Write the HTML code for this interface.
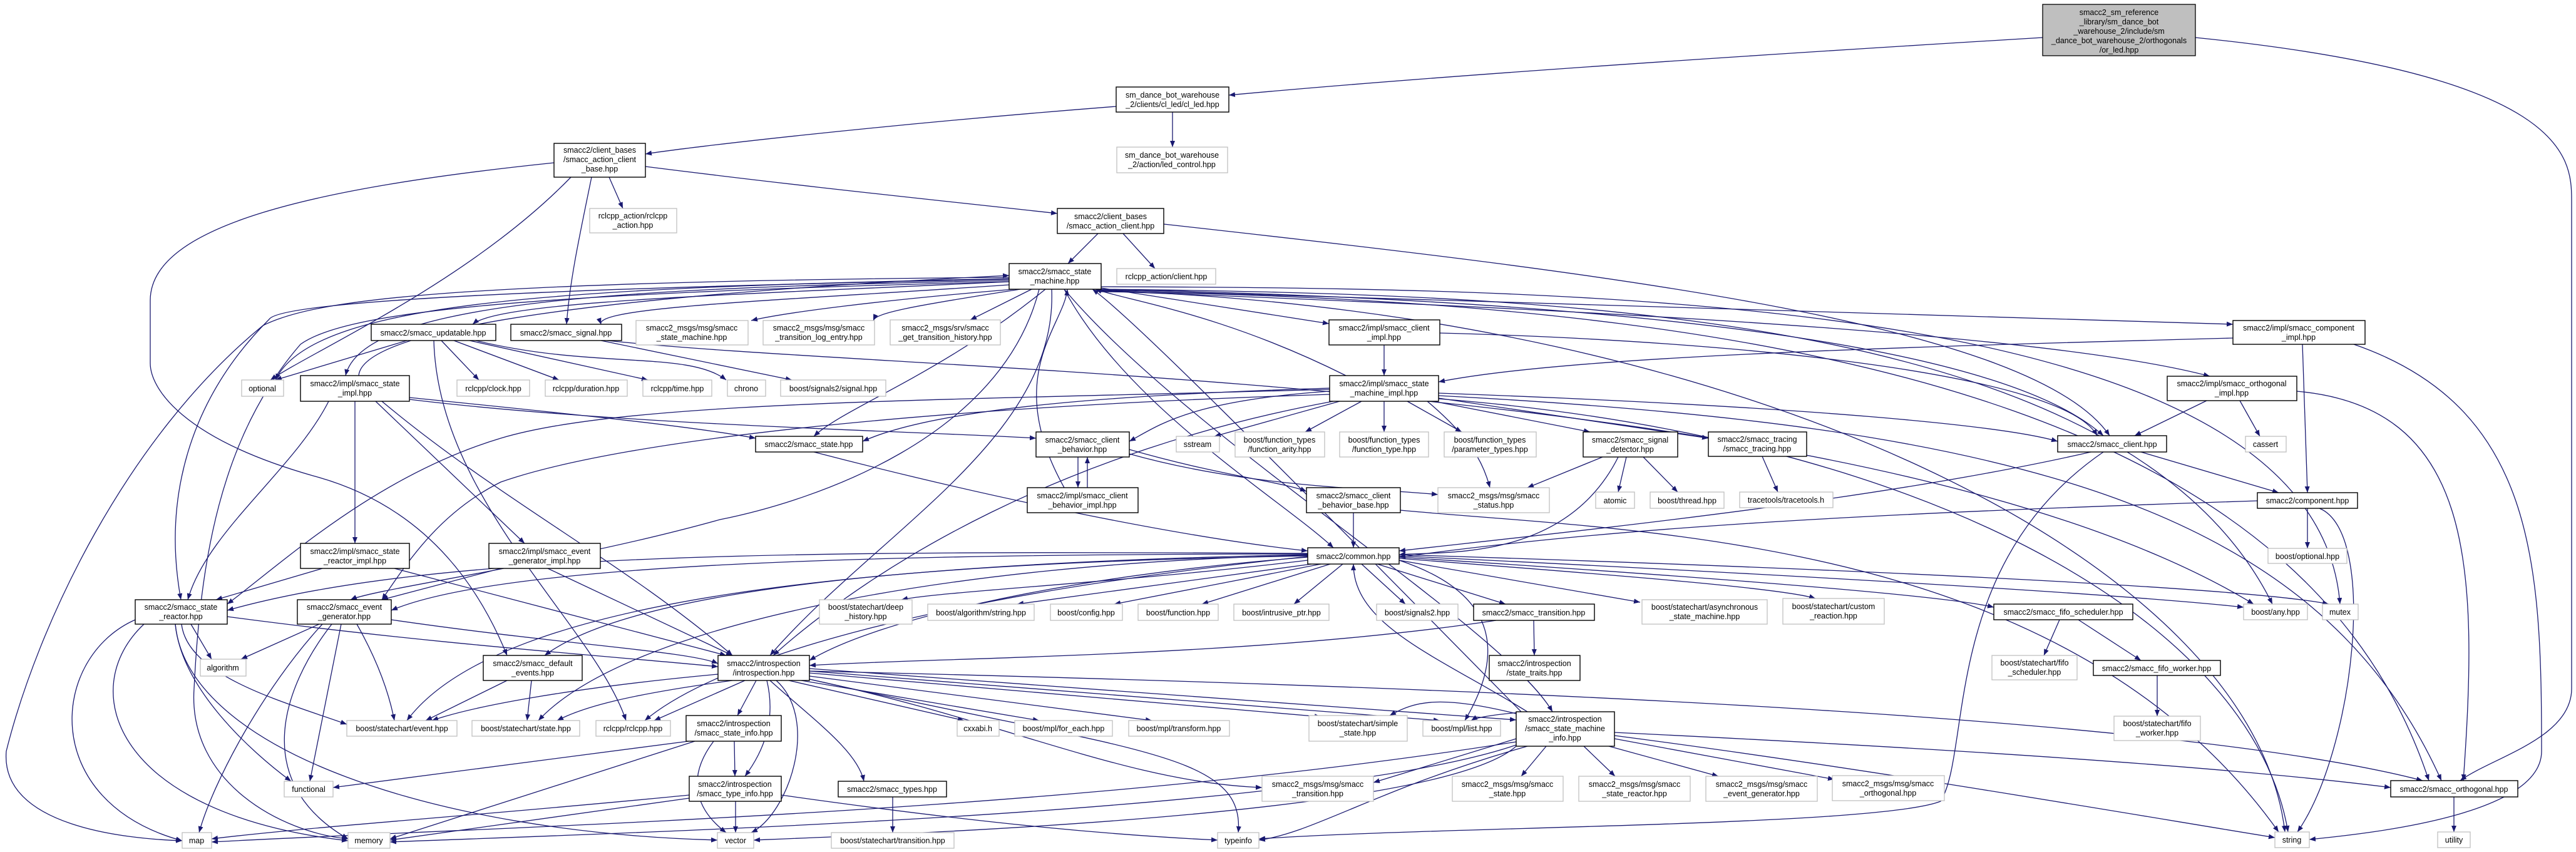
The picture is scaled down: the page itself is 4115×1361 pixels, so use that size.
<!DOCTYPE html>
<html><head><meta charset="utf-8"><style>
html,body{margin:0;padding:0;background:#fff;}
svg{display:block;}
text{font-family:"Liberation Sans",sans-serif;font-size:12.5px;fill:#000;text-anchor:middle;}
.e{fill:none;stroke:#191970;stroke-width:1.3;marker-end:url(#a);}
.b{fill:#fff;stroke:#000;stroke-width:1.4;}
.g{fill:#fff;stroke:#bfbfbf;stroke-width:1.3;}
</style></head><body>
<svg width="4115" height="1361" viewBox="0 0 4115 1361" xmlns="http://www.w3.org/2000/svg">
<defs><marker id="a" markerUnits="userSpaceOnUse" markerWidth="12" markerHeight="10" refX="10" refY="4" orient="auto"><path d="M0,0 L10,4 L0,8 z" fill="#191970"/></marker></defs>
<g>
<path class="e" d="M3263 60 C2600 100 2200 130 1963 152"/>
<path class="e" d="M3507 60 C4100 120 4108 250 4108 320 L4108 1100 C4108 1180 3980 1210 3930 1247"/>
<path class="e" d="M1783 170 C1400 200 1100 235 1031 246"/>
<path class="e" d="M1873 179 L1873 235"/>
<path class="e" d="M1031 266 C1300 300 1500 320 1689 341"/>
<path class="e" d="M973 283 L995 333"/>
<path class="e" d="M945 283 C925 380 910 450 905 518"/>
<path class="e" d="M912 283 C750 450 500 560 432 607"/>
<path class="e" d="M885 260 C500 300 240 360 240 480 L240 580 C240 620 290 700 500 760 C650 800 750 900 810 1047"/>
<path class="e" d="M1754 373 L1706 421"/>
<path class="e" d="M1794 373 L1845 429"/>
<path class="e" d="M1859 358 C2600 440 3250 520 3370 696"/>
<path class="e" d="M1612 450 C1200 470 800 480 755 518"/>
<path class="e" d="M1612 455 C1250 480 950 490 960 518"/>
<path class="e" d="M1620 462 C1400 480 1250 500 1200 512"/>
<path class="e" d="M1630 462 C1450 490 1400 500 1395 512"/>
<path class="e" d="M1648 462 L1550 511"/>
<path class="e" d="M1759 460 L2123 517"/>
<path class="e" d="M1612 445 C900 460 500 480 440 607"/>
<path class="e" d="M1612 448 C1000 460 580 480 552 600"/>
<path class="e" d="M1612 446 C900 460 450 480 430 510 C300 640 260 800 289 958"/>
<path class="e" d="M1660 462 C1600 700 1300 800 1150 830 C900 900 600 940 560 958"/>
<path class="e" d="M1680 462 C1690 700 1400 850 1230 1047"/>
<path class="e" d="M1670 462 C1500 600 1350 650 1300 697"/>
<path class="e" d="M1700 462 C1800 650 2050 800 2130 875"/>
<path class="e" d="M1759 462 C2500 470 3400 500 3630 965"/>
<path class="e" d="M1759 458 C2600 460 3700 480 3738 965"/>
<path class="e" d="M1759 462 C2600 480 3200 550 3360 696"/>
<path class="e" d="M1759 463 C2600 490 3300 510 3567 518"/>
<path class="e" d="M1759 465 C2700 500 3300 540 3530 601"/>
<path class="e" d="M1759 466 C3000 480 3700 700 3880 1247"/>
<path class="e" d="M1700 462 C1900 700 2400 1000 2480 1137"/>
<path class="e" d="M1759 464 C2800 500 3600 900 3650 1329"/>
<path class="e" d="M1612 443 C700 450 500 480 420 520 C200 700 60 1000 10 1200 C0 1320 200 1340 291 1343"/>
<path class="e" d="M1612 450 C800 470 550 500 480 550 C350 700 320 900 310 1100 C300 1250 450 1330 556 1340"/>
<path class="e" d="M573 600 C580 520 1000 470 1612 440"/>
<path class="e" d="M2150 600 C1950 500 1800 480 1750 462"/>
<path class="e" d="M1700 779 C1600 600 1700 520 1705 462"/>
<path class="e" d="M2430 1137 C2000 700 1800 500 1745 462"/>
<path class="e" d="M650 544 L440 607"/>
<path class="e" d="M705 544 L765 607"/>
<path class="e" d="M725 544 L893 607"/>
<path class="e" d="M750 544 L1035 607"/>
<path class="e" d="M760 544 C950 590 1100 560 1160 607"/>
<path class="e" d="M693 544 C700 800 950 1000 1000 1151"/>
<path class="e" d="M960 544 L1265 607"/>
<path class="e" d="M970 544 C1500 600 3000 600 3600 965"/>
<path class="e" d="M2211 551 L2211 600"/>
<path class="e" d="M2300 532 C2800 545 3300 600 3350 696"/>
<path class="e" d="M525 641 C470 750 330 850 300 958"/>
<path class="e" d="M567 641 L567 868"/>
<path class="e" d="M600 641 L838 868"/>
<path class="e" d="M610 641 C800 800 1000 900 1170 1047"/>
<path class="e" d="M654 635 C900 660 1100 680 1207 700"/>
<path class="e" d="M654 638 C1000 680 1500 690 1655 700"/>
<path class="e" d="M2140 641 L1940 697"/>
<path class="e" d="M2175 641 L2085 690"/>
<path class="e" d="M2211 641 L2211 690"/>
<path class="e" d="M2248 641 L2335 690"/>
<path class="e" d="M2290 641 L2540 690"/>
<path class="e" d="M2298 636 L2729 700"/>
<path class="e" d="M2280 641 C2350 700 2370 740 2380 779"/>
<path class="e" d="M2124 620 C1800 630 1500 650 1378 705"/>
<path class="e" d="M2124 625 C1900 640 1850 680 1804 705"/>
<path class="e" d="M2298 628 C2900 650 3200 680 3287 705"/>
<path class="e" d="M2124 622 C1500 640 1000 640 800 700 C600 760 450 900 363 965"/>
<path class="e" d="M2124 630 C1500 650 1000 700 800 770 C700 820 650 900 610 958"/>
<path class="e" d="M2130 641 C1700 720 1400 900 1235 1047"/>
<path class="e" d="M2298 632 C3200 680 3700 800 3900 1247"/>
<path class="e" d="M2298 637 C3100 700 3600 1000 3655 1329"/>
<path class="e" d="M1722 730 L1722 779"/>
<path class="e" d="M1737 779 L1737 730"/>
<path class="e" d="M1804 718 C1950 760 2050 770 2087 785"/>
<path class="e" d="M2162 819 L2162 875"/>
<path class="e" d="M1804 725 C2000 780 2200 780 2297 790"/>
<path class="e" d="M2237 815 C2600 850 3300 850 3640 1329"/>
<path class="e" d="M2560 730 L2440 779"/>
<path class="e" d="M2598 730 L2585 786"/>
<path class="e" d="M2625 730 L2680 786"/>
<path class="e" d="M2585 730 C2500 900 2300 880 2235 886"/>
<path class="e" d="M2815 729 L2840 786"/>
<path class="e" d="M3420 722 L3640 787"/>
<path class="e" d="M3340 722 C3000 800 2500 850 2235 880"/>
<path class="e" d="M3360 722 C3100 900 3150 1200 3100 1280 C3000 1320 2300 1320 2011 1340"/>
<path class="e" d="M3567 540 C3000 555 2500 570 2298 610"/>
<path class="e" d="M3678 550 L3686 787"/>
<path class="e" d="M3760 550 C4050 650 4060 900 4060 1200 C4060 1300 3800 1330 3689 1341"/>
<path class="e" d="M3525 640 L3410 696"/>
<path class="e" d="M3578 640 L3610 697"/>
<path class="e" d="M3669 625 C3950 650 3960 900 3935 1247"/>
<path class="e" d="M3686 812 L3686 876"/>
<path class="e" d="M3606 800 C3000 820 2600 840 2235 890"/>
<path class="e" d="M3705 812 C3800 850 3760 1200 3670 1329"/>
<path class="e" d="M2089 895 C1800 930 1500 945 1440 958"/>
<path class="e" d="M2095 901 L1625 965"/>
<path class="e" d="M2110 901 L1780 965"/>
<path class="e" d="M2125 901 L1920 965"/>
<path class="e" d="M2145 901 L2067 965"/>
<path class="e" d="M2175 901 L2245 965"/>
<path class="e" d="M2200 901 L2405 965"/>
<path class="e" d="M2235 895 L2620 962"/>
<path class="e" d="M2235 892 C2600 920 2850 940 2900 956"/>
<path class="e" d="M2235 890 C2700 920 3100 950 3185 970"/>
<path class="e" d="M2235 888 C2900 920 3400 950 3584 970"/>
<path class="e" d="M2235 886 C3000 910 3600 940 3720 965"/>
<path class="e" d="M2235 895 C2400 950 2400 1050 2340 1151"/>
<path class="e" d="M2089 890 C1700 920 1400 990 1293 1055"/>
<path class="e" d="M2089 888 C1400 900 800 950 650 1151"/>
<path class="e" d="M2089 886 C1400 900 1000 950 870 1047"/>
<path class="e" d="M2089 887 C1500 900 1000 1000 860 1151"/>
<path class="e" d="M2089 889 C1500 950 1150 1050 1030 1151"/>
<path class="e" d="M2089 884 C1300 880 700 880 363 975"/>
<path class="e" d="M2089 885 C1400 885 800 900 625 975"/>
<path class="e" d="M2440 1137 C2300 1050 2162 1000 2162 901"/>
<path class="e" d="M1300 722 C1600 800 1900 860 2089 880"/>
<path class="e" d="M2450 991 L2451 1047"/>
<path class="e" d="M2390 991 C2000 1050 1500 1050 1293 1063"/>
<path class="e" d="M3290 990 L3265 1047"/>
<path class="e" d="M3320 990 L3420 1055"/>
<path class="e" d="M3446 1079 L3446 1144"/>
<path class="e" d="M515 908 L345 958"/>
<path class="e" d="M630 908 C900 980 1100 1030 1160 1047"/>
<path class="e" d="M800 908 L610 958"/>
<path class="e" d="M875 908 L1170 1047"/>
<path class="e" d="M305 997 L338 1053"/>
<path class="e" d="M290 997 C300 1080 450 1120 554 1157"/>
<path class="e" d="M280 997 C290 1100 400 1200 465 1248"/>
<path class="e" d="M216 990 C80 1050 60 1280 291 1343"/>
<path class="e" d="M230 997 C120 1100 180 1300 556 1343"/>
<path class="e" d="M280 997 C300 1200 700 1330 1146 1342"/>
<path class="e" d="M363 985 C700 1030 1000 1050 1147 1065"/>
<path class="e" d="M510 997 L385 1053"/>
<path class="e" d="M570 997 C600 1050 620 1100 630 1151"/>
<path class="e" d="M545 997 L495 1248"/>
<path class="e" d="M515 997 C420 1100 340 1250 318 1330"/>
<path class="e" d="M530 997 C450 1100 400 1250 556 1340"/>
<path class="e" d="M625 990 C900 1030 1100 1040 1147 1060"/>
<path class="e" d="M810 1087 L680 1151"/>
<path class="e" d="M849 1087 L842 1151"/>
<path class="e" d="M1147 1077 C900 1100 750 1130 690 1151"/>
<path class="e" d="M1170 1087 C1000 1110 930 1130 890 1151"/>
<path class="e" d="M1190 1087 L1045 1151"/>
<path class="e" d="M1208 1087 L1178 1143"/>
<path class="e" d="M1225 1087 C1240 1150 1220 1200 1190 1240"/>
<path class="e" d="M1230 1087 C1300 1150 1370 1200 1380 1248"/>
<path class="e" d="M1260 1087 L1540 1151"/>
<path class="e" d="M1280 1087 L1660 1151"/>
<path class="e" d="M1293 1080 L1840 1151"/>
<path class="e" d="M1293 1075 L2110 1145"/>
<path class="e" d="M1293 1072 L2300 1151"/>
<path class="e" d="M1293 1068 L2422 1150"/>
<path class="e" d="M1293 1085 C1800 1200 1990 1200 1978 1330"/>
<path class="e" d="M1240 1087 C1310 1150 1260 1300 1200 1330"/>
<path class="e" d="M1293 1085 C1600 1150 1800 1250 2016 1258"/>
<path class="e" d="M1293 1072 C2500 1100 3500 1150 3870 1247"/>
<path class="e" d="M1100 1184 L532 1258"/>
<path class="e" d="M1173 1184 L1174 1240"/>
<path class="e" d="M1140 1184 C1090 1250 1120 1300 1160 1330"/>
<path class="e" d="M1110 1184 C900 1250 750 1300 623 1340"/>
<path class="e" d="M1101 1270 C800 1300 500 1320 338 1340"/>
<path class="e" d="M1101 1275 L623 1342"/>
<path class="e" d="M1175 1280 L1175 1330"/>
<path class="e" d="M1248 1270 C1600 1320 1800 1335 1945 1342"/>
<path class="e" d="M1426 1273 L1426 1330"/>
<path class="e" d="M2422 1180 L2194 1250"/>
<path class="e" d="M2470 1192 L2430 1240"/>
<path class="e" d="M2530 1192 L2580 1240"/>
<path class="e" d="M2570 1192 L2745 1240"/>
<path class="e" d="M2579 1180 L2930 1245"/>
<path class="e" d="M2579 1170 C3200 1200 3600 1230 3819 1258"/>
<path class="e" d="M2579 1175 C3000 1230 3400 1300 3634 1338"/>
<path class="e" d="M2422 1185 C1700 1300 800 1320 338 1345"/>
<path class="e" d="M2422 1190 C2100 1300 1000 1330 623 1345"/>
<path class="e" d="M2422 1192 C2300 1300 1500 1330 1204 1342"/>
<path class="e" d="M2440 1192 C2200 1260 2100 1330 2011 1342"/>
<path class="e" d="M2422 1140 C2300 1110 2260 1120 2220 1143"/>
<path class="e" d="M2440 1137 C2400 1140 2360 1145 2350 1151"/>
<path class="e" d="M3920 1273 L3920 1329"/>
</g>
<g>
<rect x="3263" y="7" width="244" height="82" fill="#bfbfbf" stroke="#000" stroke-width="1.3"/>
<text x="3385" y="24">smacc2_sm_reference</text><text x="3385" y="39">_library/sm_dance_bot</text><text x="3385" y="54">_warehouse_2/include/sm</text><text x="3385" y="69">_dance_bot_warehouse_2/orthogonals</text><text x="3385" y="84">/or_led.hpp</text>

<rect class="b" x="1783" y="139" width="180" height="40"/><text x="1873" y="156">sm_dance_bot_warehouse</text><text x="1873" y="171">_2/clients/cl_led/cl_led.hpp</text>
<rect class="g" x="1784" y="235" width="177" height="41"/><text x="1872" y="252">sm_dance_bot_warehouse</text><text x="1872" y="267">_2/action/led_control.hpp</text>
<rect class="b" x="885" y="229" width="146" height="54"/><text x="958" y="244">smacc2/client_bases</text><text x="958" y="259">/smacc_action_client</text><text x="958" y="274">_base.hpp</text>
<rect class="g" x="942" y="333" width="139" height="39"/><text x="1011" y="349">rclcpp_action/rclcpp</text><text x="1011" y="364">_action.hpp</text>
<rect class="b" x="1689" y="333" width="170" height="40"/><text x="1774" y="350">smacc2/client_bases</text><text x="1774" y="365">/smacc_action_client.hpp</text>
<rect class="b" x="1612" y="421" width="147" height="41"/><text x="1685" y="438">smacc2/smacc_state</text><text x="1685" y="453">_machine.hpp</text>
<rect class="g" x="1784" y="429" width="158" height="25"/><text x="1863" y="446">rclcpp_action/client.hpp</text>
<rect class="b" x="593" y="518" width="199" height="26"/><text x="692" y="536">smacc2/smacc_updatable.hpp</text>
<rect class="b" x="816" y="518" width="177" height="26"/><text x="904" y="536">smacc2/smacc_signal.hpp</text>
<rect class="g" x="1016" y="512" width="179" height="39"/><text x="1105" y="528">smacc2_msgs/msg/smacc</text><text x="1105" y="543">_state_machine.hpp</text>
<rect class="g" x="1219" y="512" width="178" height="39"/><text x="1308" y="528">smacc2_msgs/msg/smacc</text><text x="1308" y="543">_transition_log_entry.hpp</text>
<rect class="g" x="1422" y="511" width="176" height="40"/><text x="1510" y="528">smacc2_msgs/srv/smacc</text><text x="1510" y="543">_get_transition_history.hpp</text>
<rect class="b" x="2123" y="511" width="177" height="40"/><text x="2211" y="528">smacc2/impl/smacc_client</text><text x="2211" y="543">_impl.hpp</text>
<rect class="b" x="3567" y="512" width="211" height="38"/><text x="3672" y="528">smacc2/impl/smacc_component</text><text x="3672" y="543">_impl.hpp</text>
<rect class="g" x="386" y="607" width="67" height="26"/><text x="419" y="625">optional</text>
<rect class="b" x="480" y="600" width="174" height="41"/><text x="567" y="617">smacc2/impl/smacc_state</text><text x="567" y="632">_impl.hpp</text>
<rect class="g" x="730" y="607" width="116" height="26"/><text x="788" y="625">rclcpp/clock.hpp</text>
<rect class="g" x="871" y="607" width="131" height="26"/><text x="936" y="625">rclcpp/duration.hpp</text>
<rect class="g" x="1027" y="607" width="110" height="26"/><text x="1082" y="625">rclcpp/time.hpp</text>
<rect class="g" x="1162" y="607" width="61" height="26"/><text x="1192" y="625">chrono</text>
<rect class="g" x="1247" y="607" width="168" height="26"/><text x="1331" y="625">boost/signals2/signal.hpp</text>
<rect class="b" x="2124" y="600" width="174" height="41"/><text x="2211" y="617">smacc2/impl/smacc_state</text><text x="2211" y="632">_machine_impl.hpp</text>
<rect class="b" x="3462" y="601" width="207" height="39"/><text x="3565" y="617">smacc2/impl/smacc_orthogonal</text><text x="3565" y="632">_impl.hpp</text>
<rect class="b" x="1207" y="697" width="171" height="25"/><text x="1292" y="714">smacc2/smacc_state.hpp</text>
<rect class="b" x="1655" y="690" width="149" height="40"/><text x="1729" y="707">smacc2/smacc_client</text><text x="1729" y="722">_behavior.hpp</text>
<rect class="g" x="1879" y="697" width="69" height="25"/><text x="1913" y="714">sstream</text>
<rect class="g" x="1973" y="690" width="143" height="40"/><text x="2044" y="707">boost/function_types</text><text x="2044" y="722">/function_arity.hpp</text>
<rect class="g" x="2140" y="690" width="142" height="40"/><text x="2211" y="707">boost/function_types</text><text x="2211" y="722">/function_type.hpp</text>
<rect class="g" x="2307" y="690" width="147" height="40"/><text x="2380" y="707">boost/function_types</text><text x="2380" y="722">/parameter_types.hpp</text>
<rect class="b" x="2529" y="690" width="151" height="40"/><text x="2604" y="707">smacc2/smacc_signal</text><text x="2604" y="722">_detector.hpp</text>
<rect class="b" x="2729" y="690" width="157" height="39"/><text x="2807" y="706">smacc2/smacc_tracing</text><text x="2807" y="721">/smacc_tracing.hpp</text>
<rect class="b" x="3287" y="696" width="174" height="26"/><text x="3374" y="714">smacc2/smacc_client.hpp</text>
<rect class="g" x="3587" y="697" width="65" height="25"/><text x="3619" y="714">cassert</text>
<rect class="b" x="1641" y="779" width="177" height="40"/><text x="1729" y="796">smacc2/impl/smacc_client</text><text x="1729" y="811">_behavior_impl.hpp</text>
<rect class="b" x="2087" y="779" width="150" height="40"/><text x="2162" y="796">smacc2/smacc_client</text><text x="2162" y="811">_behavior_base.hpp</text>
<rect class="g" x="2297" y="779" width="178" height="40"/><text x="2386" y="796">smacc2_msgs/msg/smacc</text><text x="2386" y="811">_status.hpp</text>
<rect class="g" x="2549" y="786" width="62" height="26"/><text x="2580" y="804">atomic</text>
<rect class="g" x="2636" y="786" width="118" height="26"/><text x="2695" y="804">boost/thread.hpp</text>
<rect class="g" x="2779" y="786" width="149" height="25"/><text x="2853" y="803">tracetools/tracetools.h</text>
<rect class="b" x="3606" y="787" width="160" height="25"/><text x="3686" y="804">smacc2/component.hpp</text>
<rect class="b" x="480" y="868" width="174" height="40"/><text x="567" y="885">smacc2/impl/smacc_state</text><text x="567" y="900">_reactor_impl.hpp</text>
<rect class="b" x="781" y="868" width="178" height="40"/><text x="870" y="885">smacc2/impl/smacc_event</text><text x="870" y="900">_generator_impl.hpp</text>
<rect class="b" x="2089" y="875" width="146" height="26"/><text x="2162" y="893">smacc2/common.hpp</text>
<rect class="g" x="3623" y="876" width="126" height="24"/><text x="3686" y="893">boost/optional.hpp</text>
<rect class="b" x="216" y="958" width="147" height="39"/><text x="289" y="974">smacc2/smacc_state</text><text x="289" y="989">_reactor.hpp</text>
<rect class="b" x="475" y="958" width="150" height="39"/><text x="550" y="974">smacc2/smacc_event</text><text x="550" y="989">_generator.hpp</text>
<rect class="g" x="1309" y="958" width="148" height="39"/><text x="1383" y="974">boost/statechart/deep</text><text x="1383" y="989">_history.hpp</text>
<rect class="g" x="1482" y="965" width="170" height="26"/><text x="1567" y="983">boost/algorithm/string.hpp</text>
<rect class="g" x="1678" y="965" width="115" height="26"/><text x="1735" y="983">boost/config.hpp</text>
<rect class="g" x="1818" y="965" width="128" height="26"/><text x="1882" y="983">boost/function.hpp</text>
<rect class="g" x="1971" y="965" width="152" height="26"/><text x="2047" y="983">boost/intrusive_ptr.hpp</text>
<rect class="g" x="2199" y="965" width="130" height="26"/><text x="2264" y="983">boost/signals2.hpp</text>
<rect class="b" x="2354" y="965" width="193" height="26"/><text x="2450" y="983">smacc2/smacc_transition.hpp</text>
<rect class="g" x="2623" y="958" width="200" height="39"/><text x="2723" y="974">boost/statechart/asynchronous</text><text x="2723" y="989">_state_machine.hpp</text>
<rect class="g" x="2848" y="956" width="162" height="41"/><text x="2929" y="973">boost/statechart/custom</text><text x="2929" y="988">_reaction.hpp</text>
<rect class="b" x="3185" y="965" width="222" height="25"/><text x="3296" y="982">smacc2/smacc_fifo_scheduler.hpp</text>
<rect class="g" x="3584" y="965" width="102" height="25"/><text x="3635" y="982">boost/any.hpp</text>
<rect class="g" x="3710" y="965" width="57" height="25"/><text x="3738" y="982">mutex</text>
<rect class="g" x="320" y="1053" width="73" height="27"/><text x="356" y="1071">algorithm</text>
<rect class="b" x="772" y="1047" width="158" height="40"/><text x="851" y="1064">smacc2/smacc_default</text><text x="851" y="1079">_events.hpp</text>
<rect class="b" x="1147" y="1047" width="146" height="40"/><text x="1220" y="1064">smacc2/introspection</text><text x="1220" y="1079">/introspection.hpp</text>
<rect class="b" x="2379" y="1047" width="145" height="40"/><text x="2451" y="1064">smacc2/introspection</text><text x="2451" y="1079">/state_traits.hpp</text>
<rect class="g" x="3182" y="1047" width="136" height="39"/><text x="3250" y="1063">boost/statechart/fifo</text><text x="3250" y="1078">_scheduler.hpp</text>
<rect class="b" x="3344" y="1055" width="203" height="24"/><text x="3445" y="1072">smacc2/smacc_fifo_worker.hpp</text>
<rect class="g" x="554" y="1151" width="176" height="25"/><text x="642" y="1168">boost/statechart/event.hpp</text>
<rect class="g" x="754" y="1151" width="172" height="25"/><text x="840" y="1168">boost/statechart/state.hpp</text>
<rect class="g" x="952" y="1151" width="119" height="25"/><text x="1011" y="1168">rclcpp/rclcpp.hpp</text>
<rect class="b" x="1096" y="1143" width="152" height="41"/><text x="1172" y="1160">smacc2/introspection</text><text x="1172" y="1175">/smacc_state_info.hpp</text>
<rect class="g" x="1529" y="1151" width="67" height="25"/><text x="1562" y="1168">cxxabi.h</text>
<rect class="g" x="1621" y="1151" width="156" height="25"/><text x="1699" y="1168">boost/mpl/for_each.hpp</text>
<rect class="g" x="1803" y="1151" width="161" height="25"/><text x="1883" y="1168">boost/mpl/transform.hpp</text>
<rect class="g" x="2091" y="1143" width="157" height="41"/><text x="2169" y="1160">boost/statechart/simple</text><text x="2169" y="1175">_state.hpp</text>
<rect class="g" x="2273" y="1151" width="124" height="25"/><text x="2335" y="1168">boost/mpl/list.hpp</text>
<rect class="b" x="2422" y="1137" width="157" height="55"/><text x="2500" y="1153">smacc2/introspection</text><text x="2500" y="1168">/smacc_state_machine</text><text x="2500" y="1183">_info.hpp</text>
<rect class="g" x="3377" y="1144" width="138" height="39"/><text x="3446" y="1160">boost/statechart/fifo</text><text x="3446" y="1175">_worker.hpp</text>
<rect class="g" x="454" y="1248" width="78" height="25"/><text x="493" y="1265">functional</text>
<rect class="b" x="1101" y="1240" width="147" height="40"/><text x="1174" y="1257">smacc2/introspection</text><text x="1174" y="1272">/smacc_type_info.hpp</text>
<rect class="b" x="1339" y="1248" width="173" height="25"/><text x="1425" y="1265">smacc2/smacc_types.hpp</text>
<rect class="g" x="2016" y="1240" width="178" height="40"/><text x="2105" y="1257">smacc2_msgs/msg/smacc</text><text x="2105" y="1272">_transition.hpp</text>
<rect class="g" x="2320" y="1240" width="177" height="40"/><text x="2408" y="1257">smacc2_msgs/msg/smacc</text><text x="2408" y="1272">_state.hpp</text>
<rect class="g" x="2522" y="1240" width="178" height="40"/><text x="2611" y="1257">smacc2_msgs/msg/smacc</text><text x="2611" y="1272">_state_reactor.hpp</text>
<rect class="g" x="2725" y="1240" width="178" height="40"/><text x="2814" y="1257">smacc2_msgs/msg/smacc</text><text x="2814" y="1272">_event_generator.hpp</text>
<rect class="g" x="2927" y="1239" width="179" height="40"/><text x="3016" y="1256">smacc2_msgs/msg/smacc</text><text x="3016" y="1271">_orthogonal.hpp</text>
<rect class="b" x="3819" y="1247" width="203" height="26"/><text x="3920" y="1265">smacc2/smacc_orthogonal.hpp</text>
<rect class="g" x="291" y="1330" width="47" height="25"/><text x="314" y="1347">map</text>
<rect class="g" x="556" y="1330" width="67" height="25"/><text x="589" y="1347">memory</text>
<rect class="g" x="1146" y="1330" width="58" height="25"/><text x="1175" y="1347">vector</text>
<rect class="g" x="1328" y="1330" width="196" height="25"/><text x="1426" y="1347">boost/statechart/transition.hpp</text>
<rect class="g" x="1945" y="1330" width="66" height="25"/><text x="1978" y="1347">typeinfo</text>
<rect class="g" x="3634" y="1329" width="55" height="25"/><text x="3661" y="1346">string</text>
<rect class="g" x="3894" y="1329" width="52" height="25"/><text x="3920" y="1346">utility</text>
</g>
</svg>
</body></html>
